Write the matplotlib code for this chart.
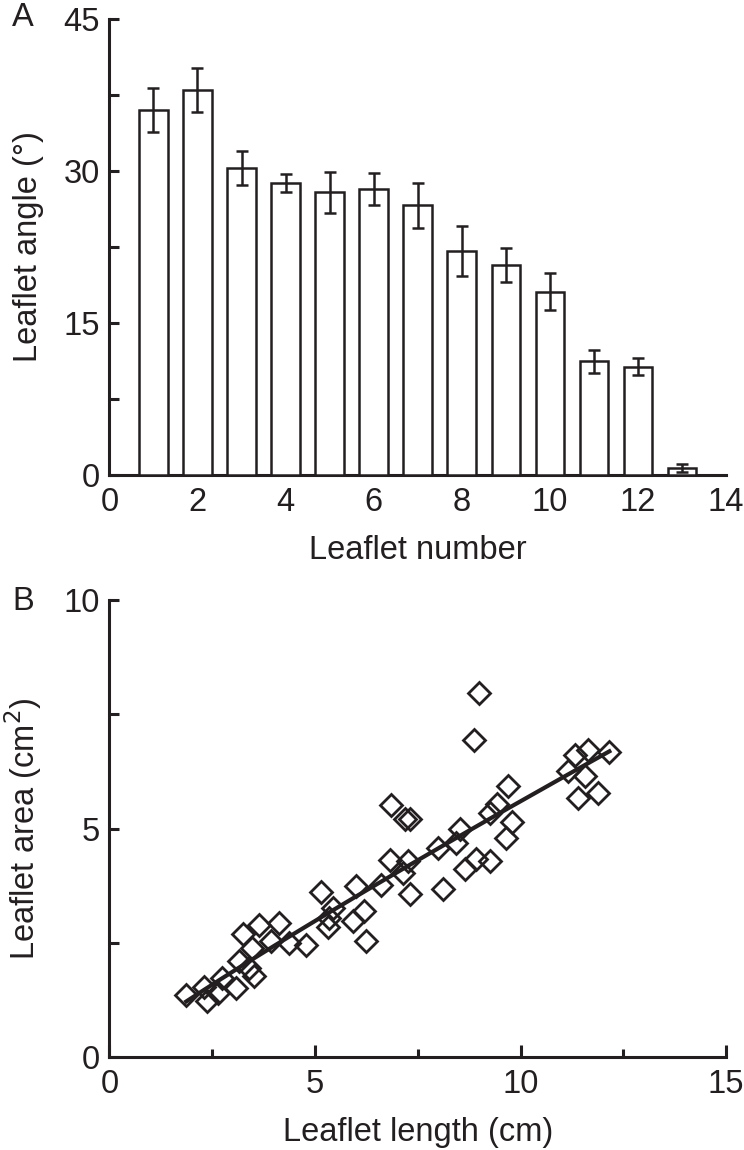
"""
Two-panel leaflet figure: (A) leaflet angle by leaflet number, (B) leaflet area vs length.
"""

import matplotlib
matplotlib.use("Agg")
import matplotlib.pyplot as plt
import numpy as np

plt.rcParams["font.family"] = ["Liberation Sans", "DejaVu Sans"]

# panel A: mean leaflet angle per leaflet position, with error bars
leaflet_number = [1, 2, 3, 4, 5, 6, 7, 8, 9, 10, 11, 12, 13]
leaflet_angle = [36.0, 38.0, 30.3, 28.8, 27.9, 28.2, 26.6, 22.1, 20.7, 18.1, 11.2, 10.7, 0.7]
angle_err = [2.2, 2.2, 1.7, 0.9, 2.0, 1.6, 2.2, 2.5, 1.7, 1.8, 1.1, 0.85, 0.4]

# panel B: leaflet length (cm) vs leaflet area (cm2)
leaflet_length = [
    1.87, 2.30, 2.38, 2.65, 2.75, 3.07, 3.15, 3.40, 3.52, 3.24,
    3.48, 3.64, 3.93, 4.13, 4.37, 4.78, 5.15, 5.43, 5.33, 5.31,
    6.00, 5.92, 6.20, 6.24, 6.61, 6.84, 6.82, 7.14, 7.26, 7.30,
    7.20, 7.30, 7.99, 8.11, 8.44, 8.52, 8.64, 8.92, 8.88, 8.99,
    9.25, 9.25, 9.43, 9.70, 9.78, 9.64, 11.16, 11.32, 11.65, 12.16,
    11.57, 11.40, 11.89,
]
leaflet_area = [
    1.36, 1.54, 1.22, 1.40, 1.73, 1.51, 2.09, 1.95, 1.76, 2.68,
    2.38, 2.89, 2.53, 2.93, 2.49, 2.46, 3.62, 3.26, 3.05, 2.85,
    3.74, 2.98, 3.19, 2.53, 3.77, 5.52, 4.32, 4.02, 4.28, 3.56,
    5.22, 5.20, 4.58, 3.67, 4.69, 5.00, 4.12, 4.34, 6.94, 7.97,
    4.28, 5.34, 5.53, 5.93, 5.14, 4.80, 6.26, 6.62, 6.73, 6.67,
    6.15, 5.67, 5.77,
]

FS = 23.5
LW = 2.2
INK = "#231f20"

fig = plt.figure(figsize=(7.44, 11.5), dpi=100)
ax_a = fig.add_axes([0.147, 0.587, 0.829, 0.3965])
ax_b = fig.add_axes([0.147, 0.081, 0.829, 0.397])


def style_axes(ax):
    for side in ("top", "right"):
        ax.spines[side].set_visible(False)
    for side in ("left", "bottom"):
        ax.spines[side].set_linewidth(LW)
        ax.spines[side].set_color(INK)
    ax.tick_params(which="both", direction="in", width=LW, color=INK,
                   labelsize=FS, labelcolor=INK)
    ax.tick_params(axis="y", which="both", length=7, pad=7)
    ax.tick_params(axis="x", which="both", pad=9)


# --- A ---
style_axes(ax_a)
ax_a.bar(leaflet_number, leaflet_angle, width=0.65, color="white",
         edgecolor=INK, linewidth=1.8, zorder=3)
ax_a.errorbar(leaflet_number, leaflet_angle, yerr=angle_err, fmt="none",
              ecolor=INK, elinewidth=1.8, capsize=4.5, capthick=1.8, zorder=4)
ax_a.set_xlim(0, 14)
ax_a.set_ylim(0, 45)
ax_a.set_xticks(range(0, 15, 2))
ax_a.tick_params(axis="x", which="major", length=0)
# only the tick at the right end shows (the rest sit under the bars)
ax_a.set_xticks([14], minor=True)
ax_a.tick_params(axis="x", which="minor", length=7)
ax_a.set_yticks([0, 15, 30, 45])
ax_a.set_yticks([7.5, 22.5, 37.5], minor=True)
ax_a.set_xlabel("Leaflet number", fontsize=FS, color=INK, labelpad=12)
ax_a.set_ylabel("Leaflet angle (°)", fontsize=FS, color=INK, labelpad=14)
fig.text(0.031, 0.985, "A", fontsize=FS, color=INK, va="center", ha="center")

# --- B ---
style_axes(ax_b)
ax_b.plot(leaflet_length, leaflet_area, linestyle="none", marker="D", markersize=11.5,
          markerfacecolor="none", markeredgecolor=INK, markeredgewidth=2, zorder=3)

# power-law fit through the scatter
x = np.array(leaflet_length)
y = np.array(leaflet_area)
b, log_a = np.polyfit(np.log(x), np.log(y), 1)
xs = np.sort(x)
ax_b.plot(xs, np.exp(log_a) * xs ** b, color=INK, linewidth=3, zorder=4)

ax_b.set_xlim(0, 15)
ax_b.set_ylim(0, 10)
ax_b.set_xticks([0, 5, 10, 15])
ax_b.set_xticks([2.5, 7.5, 12.5], minor=True)
ax_b.set_yticks([0, 5, 10])
ax_b.set_yticks([2.5, 7.5], minor=True)
ax_b.tick_params(axis="x", which="major", length=9)
ax_b.tick_params(axis="x", which="minor", length=6)
ax_b.set_xlabel("Leaflet length (cm)", fontsize=FS, color=INK, labelpad=12)
ax_b.set_ylabel("Leaflet area (cm$^2$)", fontsize=FS, color=INK, labelpad=14)
fig.text(0.031, 0.477, "B", fontsize=FS, color=INK, va="center", ha="center")

fig.savefig("out.png", dpi=100)
